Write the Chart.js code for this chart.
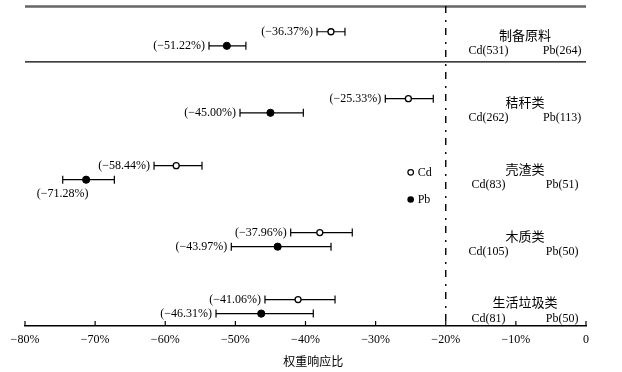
<!DOCTYPE html>
<html><head><meta charset="utf-8">
<script src="https://cdn.jsdelivr.net/npm/chart.js@4/dist/chart.umd.min.js"></script>
<style>html,body{margin:0;padding:0;background:#fff}#wrap{width:622px;height:372px}</style>
</head><body><div id="wrap"><canvas id="c" width="622" height="372"></canvas></div>
<script>
// ---- data ----
const groups  = ['制备原料', '秸秆类', '壳渣类', '木质类', '生活垃圾类'];
const cdMean  = [-36.37, -25.33, -58.44, -37.96, -41.06];
const cdLow   = [-38.36, -28.62, -61.60, -42.11, -45.78];
const cdHigh  = [-34.37, -21.78, -54.76, -33.33, -35.79];
const pbMean  = [-51.22, -45.00, -71.28, -43.97, -46.31];
const pbLow   = [-53.76, -49.34, -74.62, -50.58, -52.76];
const pbHigh  = [-48.50, -40.31, -67.26, -36.36, -38.89];
const cdCount = [531, 262, 83, 105, 81];
const pbCount = [264, 113, 51, 50, 50];
const xTicks  = [-80, -70, -60, -50, -40, -30, -20, -10, 0];
const refLine = -20;
const xTitle  = '权重响应比';

const SERIF = '"Liberation Serif", "Times New Roman", serif';
const CJK = '"Noto Sans CJK SC", sans-serif';
const ROW_OFF = 0.105;
const fmtPct = v => '(' + (v < 0 ? '\u2212' : '') + Math.abs(v).toFixed(2) + '%)';

const cdData = groups.map((g, i) => ({x: cdMean[i], y: i - ROW_OFF, lo: cdLow[i], hi: cdHigh[i]}));
const pbData = groups.map((g, i) => ({x: pbMean[i], y: i + ROW_OFF, lo: pbLow[i], hi: pbHigh[i]}));

const forestPlugin = {
  id: 'forest',
  beforeDatasetsDraw(chart) {
    const {ctx, chartArea: ca, scales: {x, y}} = chart;
    ctx.save();
    // top frame line
    ctx.strokeStyle = '#666'; ctx.lineWidth = 2.4;
    ctx.beginPath(); ctx.moveTo(ca.left, ca.top + 0.5); ctx.lineTo(ca.right, ca.top + 0.5); ctx.stroke();
    // separator between preparation material and categories
    ctx.strokeStyle = '#000'; ctx.lineWidth = 1.4;
    const sy = y.getPixelForValue(0.345);
    ctx.beginPath(); ctx.moveTo(ca.left, sy); ctx.lineTo(ca.right, sy); ctx.stroke();
    // reference dash-dot line
    const rx = x.getPixelForValue(refLine);
    ctx.setLineDash([7, 7, 2, 6]); ctx.lineWidth = 1.4;
    ctx.beginPath(); ctx.moveTo(rx, ca.top); ctx.lineTo(rx, ca.bottom); ctx.stroke();
    ctx.setLineDash([]);
    // tick marks pointing inward
    ctx.lineWidth = 1.2;
    xTicks.forEach(t => {
      const px = x.getPixelForValue(t);
      ctx.beginPath(); ctx.moveTo(px, ca.bottom); ctx.lineTo(px, ca.bottom - 5); ctx.stroke();
    });
    // error bars
    ctx.lineWidth = 1.2;
    [cdData, pbData].forEach(set => set.forEach(d => {
      const py = y.getPixelForValue(d.y);
      const x1 = x.getPixelForValue(d.lo), x2 = x.getPixelForValue(d.hi);
      ctx.beginPath();
      ctx.moveTo(x1, py); ctx.lineTo(x2, py);
      ctx.moveTo(x1, py - 4); ctx.lineTo(x1, py + 4);
      ctx.moveTo(x2, py - 4); ctx.lineTo(x2, py + 4);
      ctx.stroke();
    }));
    ctx.restore();
  },
  afterDatasetsDraw(chart) {
    const {ctx, chartArea: ca, scales: {x, y}} = chart;
    ctx.save();
    ctx.fillStyle = '#000';
    // value labels
    ctx.font = '12px ' + SERIF;
    [cdData, pbData].forEach(set => set.forEach(d => {
      const py = y.getPixelForValue(d.y);
      const x1 = x.getPixelForValue(d.lo);
      const txt = fmtPct(d.x);
      const w = ctx.measureText(txt).width;
      if (x1 - 4 - w < ca.left) {
        ctx.textAlign = 'center'; ctx.textBaseline = 'middle';
        ctx.fillText(txt, x1, py + 14);
      } else {
        ctx.textAlign = 'right'; ctx.textBaseline = 'middle';
        ctx.fillText(txt, x1 - 4, py + 0.5);
      }
    }));
    // right-hand group labels
    const nameX = x.getPixelForValue(-8.7);
    const cdX = x.getPixelForValue(-13.9);
    const pbX = x.getPixelForValue(-3.4);
    groups.forEach((g, i) => {
      ctx.textAlign = 'center'; ctx.textBaseline = 'middle';
      ctx.font = '13px ' + CJK;
      ctx.fillText(g, nameX, y.getPixelForValue(i - ROW_OFF) + 3);
      ctx.font = '12px ' + SERIF;
      const cy = y.getPixelForValue(i + ROW_OFF) + 5;
      ctx.fillText('Cd(' + cdCount[i] + ')', cdX, cy);
      ctx.fillText('Pb(' + pbCount[i] + ')', pbX, cy);
    });
    // legend
    const lx = x.getPixelForValue(-25);
    const ly1 = y.getPixelForValue(1.995), ly2 = y.getPixelForValue(2.4);
    ctx.lineWidth = 1.2; ctx.strokeStyle = '#000';
    ctx.beginPath(); ctx.arc(lx, ly1, 2.8, 0, Math.PI * 2); ctx.fillStyle = '#fff'; ctx.fill(); ctx.stroke();
    ctx.fillStyle = '#000';
    ctx.beginPath(); ctx.arc(lx, ly2, 3.3, 0, Math.PI * 2); ctx.fill();
    ctx.font = '12px ' + SERIF; ctx.textAlign = 'left'; ctx.textBaseline = 'middle';
    ctx.fillText(chart.data.datasets[0].label, lx + 7, ly1);
    ctx.fillText(chart.data.datasets[1].label, lx + 7, ly2);
    // axis title
    ctx.font = '12px ' + CJK; ctx.textAlign = 'center';
    ctx.fillText(xTitle, x.getPixelForValue(-38.9), 361);
    ctx.restore();
  }
};

new Chart(document.getElementById('c'), {
  type: 'scatter',
  data: {
    datasets: [
      {label: 'Cd', data: cdData, pointRadius: 3, pointHoverRadius: 3, backgroundColor: '#fff', borderColor: '#000', borderWidth: 1.3},
      {label: 'Pb', data: pbData, pointRadius: 3.6, pointHoverRadius: 3.6, backgroundColor: '#000', borderColor: '#000', borderWidth: 1}
    ]
  },
  options: {
    responsive: false,
    animation: false,
    devicePixelRatio: 1,
    layout: {padding: {left: 25, right: 36, top: 6, bottom: 0}},
    plugins: {legend: {display: false}, tooltip: {enabled: false}},
    scales: {
      x: {
        type: 'linear', min: -80, max: 0,
        afterBuildTicks: s => { s.ticks = xTicks.map(v => ({value: v})); },
        afterFit: s => { s.height = 46; },
        grid: {display: false, drawTicks: false},
        border: {display: true, color: '#000', width: 1.4},
        ticks: {
          padding: 7, color: '#000', font: {family: SERIF, size: 12},
          maxRotation: 0, autoSkip: false,
          callback: v => v === 0 ? '0' : '\u2212' + Math.abs(v) + '%'
        },
        title: {display: false, text: xTitle}
      },
      y: {type: 'linear', min: -0.49, max: 4.29, reverse: true, display: false}
    }
  },
  plugins: [forestPlugin]
});
</script>
</body></html>
